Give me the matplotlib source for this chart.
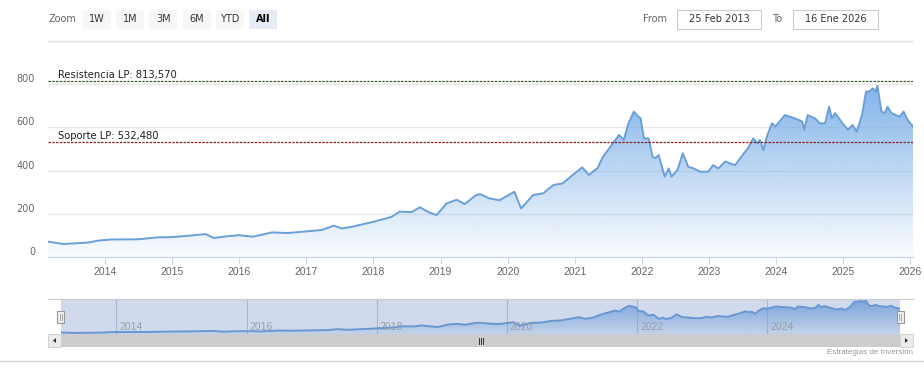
import numpy as np
import matplotlib
matplotlib.use("Agg")
import matplotlib.pyplot as plt
from matplotlib import transforms
from matplotlib.patches import Rectangle, Polygon
from matplotlib.colors import to_rgb

plt.rcParams["font.family"] = ["DejaVu Sans"]

W, H = 924, 382

# datos (años decimales, precio)
fechas = [2013.15, 2013.38, 2013.75, 2013.9, 2014.09, 2014.49, 2014.79, 2014.99, 2015.23, 2015.5,
          2015.62, 2015.82, 2015.99, 2016.2, 2016.49, 2016.72, 2016.98, 2017.23, 2017.41, 2017.53,
          2017.68, 2018.0, 2018.27, 2018.39, 2018.57, 2018.69, 2018.82, 2018.94, 2019.09, 2019.24,
          2019.36, 2019.53, 2019.59, 2019.73, 2019.88, 2020.1, 2020.2, 2020.38, 2020.53, 2020.68,
          2020.82, 2020.97, 2021.11, 2021.21, 2021.34, 2021.42, 2021.57, 2021.66, 2021.73, 2021.8,
          2021.88, 2021.95, 2021.98, 2022.03, 2022.1, 2022.16, 2022.2, 2022.25, 2022.34, 2022.4,
          2022.44, 2022.53, 2022.61, 2022.69, 2022.77, 2022.87, 2022.99, 2023.06, 2023.14, 2023.24,
          2023.39, 2023.5, 2023.58, 2023.66, 2023.72, 2023.76, 2023.81, 2023.87, 2023.94, 2023.99,
          2024.13, 2024.28, 2024.39, 2024.42, 2024.47, 2024.58, 2024.65, 2024.73, 2024.79, 2024.83,
          2024.88, 2024.99, 2025.07, 2025.14, 2025.2, 2025.28, 2025.34, 2025.39, 2025.44, 2025.48,
          2025.51, 2025.57, 2025.62, 2025.66, 2025.72, 2025.84, 2025.9, 2025.96, 2026.04]
precio = [71, 60, 67, 76, 81, 82, 91, 92, 98, 106,
          88, 96, 101, 94, 114, 111, 118, 125, 145, 132,
          140, 163, 186, 210, 208, 230, 208, 194, 248, 265,
          245, 287, 291, 271, 263, 302, 225, 287, 295, 333,
          341, 380, 415, 380, 412, 464, 527, 565, 542, 619,
          673, 649, 643, 549, 549, 464, 457, 472, 372, 410,
          372, 403, 480, 418, 410, 395, 395, 425, 410, 442,
          425, 472, 503, 549, 527, 542, 495, 565, 619, 604,
          657, 642, 627, 589, 657, 642, 619, 619, 696, 642,
          666, 619, 589, 611, 580, 657, 766, 766, 781, 766,
          792, 673, 666, 696, 666, 649, 673, 634, 604]

resistencia = 813.570
soporte = 532.480
anios = list(range(2014, 2027))
anios_nav = [2014, 2016, 2018, 2020, 2022, 2024]
y_ticks = [0, 200, 400, 600, 800]
botones = ["1W", "1M", "3M", "6M", "YTD", "All"]
desde, hasta = "25 Feb 2013", "16 Ene 2026"

C_LINE = "#6a9fd8"
C_FILL = "#7cb0e8"

fig = plt.figure(figsize=(W / 100, H / 100), dpi=100)


def px_axes(x0, y0, x1, y1):
    return fig.add_axes([x0 / W, 1 - y1 / H, (x1 - x0) / W, (y1 - y0) / H])


def gradient_area(a, x, y, ymin, a_top, a_bot, z=2):
    poly = a.fill_between(x, y, ymin, color="none", lw=0)
    g = np.zeros((256, 1, 4))
    g[:, 0, :3] = to_rgb(C_FILL)
    g[:, 0, 3] = np.linspace(a_top, a_bot, 256)
    im = a.imshow(g, aspect="auto", extent=[x[0], x[-1], ymin, max(y)],
                  origin="upper", zorder=z, interpolation="bilinear")
    im.set_clip_path(poly.get_paths()[0], transform=a.transData)
    a.plot(x, y, color=C_LINE, lw=1.4, zorder=z + 1, solid_joinstyle="round")


# --- gráfico principal ---
ax = px_axes(48, 41, 913, 257)
gradient_area(ax, fechas, precio, 0, 0.95, 0.04)
ax.set_xlim(fechas[0], fechas[-1])
ax.set_ylim(0, 1000)
ax.set_facecolor("none")
for s in ax.spines.values():
    s.set_visible(False)
ax.spines["bottom"].set_visible(True)
ax.spines["bottom"].set_color("#ccd6eb")
ax.set_yticks(range(0, 1001, 200))
ax.yaxis.grid(True, color="#e6e6e6", lw=1)
ax.set_axisbelow(True)
ax.tick_params(axis="y", length=0, labelleft=False)
ax.set_xticks(anios)
ax.set_xticklabels([str(a) for a in anios], family=["Liberation Sans", "DejaVu Sans"])
ax.tick_params(axis="x", length=5, color="#ccd6eb", labelsize=7.5, labelcolor="#666666", pad=2)

ytr = transforms.offset_copy(transforms.blended_transform_factory(ax.transAxes, ax.transData),
                             fig=fig, y=5, units="dots")
for v in y_ticks:
    ax.text(-0.015, v, str(v), transform=ytr, ha="right", va="center", fontsize=7, color="#666666")

ltr = transforms.offset_copy(transforms.blended_transform_factory(ax.transAxes, ax.transData),
                             fig=fig, y=1, units="dots")
for val, nombre, col in [(resistencia, "Resistencia LP", "#3d5c23"), (soporte, "Soporte LP", "#8b2323")]:
    ax.axhline(val, color=col, ls=(0, (2, 1)), lw=0.9, zorder=5)
    ax.text(0.0116, val, f"{nombre}: {val:.3f}".replace(".", ","), transform=ltr,
            ha="left", va="bottom", fontsize=7.2, color="#222222", zorder=6)

# --- navegador ---
nav = px_axes(61, 299, 900, 334)
for a in anios_nav:
    nav.axvline(a, color="#c2cadc", lw=0.8, zorder=1)
gradient_area(nav, fechas, precio, 36, 0.95, 0.15)
nav.set_xlim(fechas[0], fechas[-1])
nav.set_ylim(36, 827)
nav.axis("off")
nav.add_patch(Rectangle((0, 0), 1, 1, transform=nav.transAxes, facecolor=(102 / 255, 133 / 255, 194 / 255),
                        alpha=0.3, lw=0, zorder=5))
ntr = transforms.offset_copy(transforms.blended_transform_factory(nav.transData, nav.transAxes),
                             fig=fig, x=3, units="dots")
for a in anios_nav:
    nav.text(a, 0.21, str(a), transform=ntr, ha="left", va="center", fontsize=7.5,
             color="#9aa0aa", family=["Liberation Sans", "DejaVu Sans"], zorder=6)

# --- interfaz (coordenadas en píxeles) ---
ui = fig.add_axes([0, 0, 1, 1])
ui.set_xlim(0, W)
ui.set_ylim(H, 0)
ui.axis("off")

ui.plot([48, 913], [40.5, 40.5], color="#e6e6e6", lw=1)
ui.plot([48, 913], [299, 299], color="#cccccc", lw=0.8)
ui.plot([0, W], [361, 361], color="#d4d4d4", lw=1)

ui.text(49, 19.5, "Zoom", fontsize=7, color="#666666", ha="left", va="center")
for i, b in enumerate(botones):
    x0 = 83 + i * 33.2
    sel = b == "All"
    ui.add_patch(Rectangle((x0, 10), 28, 19, facecolor="#e6ebf5" if sel else "#f7f7f7", lw=0))
    ui.text(x0 + 14, 19.5, b, fontsize=7, ha="center", va="center",
            color="#000000" if sel else "#333333", weight="bold" if sel else "normal")

ui.text(643, 19.5, "From", fontsize=7, color="#666666", ha="left", va="center")
ui.text(772, 19.5, "To", fontsize=7, color="#666666", ha="left", va="center")
for x0, w, t in [(677, 84, desde), (793, 85, hasta)]:
    ui.add_patch(Rectangle((x0, 10), w, 19, facecolor="white", edgecolor="#cccccc", lw=0.8))
    ui.text(x0 + w / 2, 19.5, t, fontsize=7, color="#333333", ha="center", va="center")

# barra de desplazamiento
ui.add_patch(Rectangle((48, 334), 865, 13, facecolor="#f2f2f2", lw=0))
ui.add_patch(Rectangle((61, 334), 839, 13, facecolor="#cccccc", lw=0))
for x0, d in [(48, -1), (900, 1)]:
    ui.add_patch(Rectangle((x0, 334), 13, 13, facecolor="#ebebeb", edgecolor="#cccccc", lw=0.6))
    cx = x0 + 6.5
    ui.add_patch(Polygon([(cx + 1.5 * d, 340.5), (cx - 1.5 * d, 338), (cx - 1.5 * d, 343)],
                         closed=True, facecolor="#333333", lw=0))
for gx in [478.5, 480.5, 482.5]:
    ui.plot([gx, gx], [338, 343.5], color="#333333", lw=0.7)

# asas del navegador
for hx in [60.5, 900]:
    ui.add_patch(Rectangle((hx - 3.5, 311), 7, 12, facecolor="#f2f2f2", edgecolor="#999999", lw=0.8))
    for dx in [-1, 1]:
        ui.plot([hx + dx, hx + dx], [314, 320], color="#999999", lw=0.6)

ui.text(913, 353, "Estrategias de Inversión", fontsize=5.8, color="#999999", ha="right", va="center",
        family=["Liberation Sans", "DejaVu Sans"])

fig.savefig("out.png", dpi=100, facecolor="white")
